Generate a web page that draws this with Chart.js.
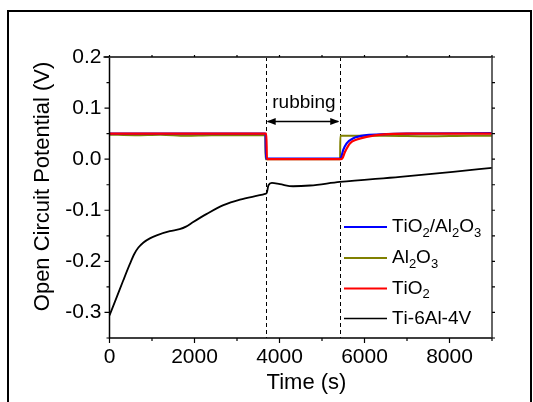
<!DOCTYPE html>
<html>
<head>
<meta charset="utf-8">
<script src="https://cdn.jsdelivr.net/npm/chart.js@4.4.1/dist/chart.umd.min.js"></script>
<style>
  html, body { margin: 0; padding: 0; background: #fff; }
  #wrap { width: 533px; height: 402px; }
</style>
</head>
<body>
<div id="wrap"><canvas id="ocp" width="533" height="402"></canvas></div>
<script>
// OCP traces, time in s, potential in V
const tiAlO = [[0, 0.050], [3670, 0.050], [3682, 0.001], [5430, 0.001], [5460, 0.006], [5500, 0.018],
  [5580, 0.031], [5740, 0.041], [6050, 0.047], [6500, 0.049], [7000, 0.050], [9000, 0.051]];
const al2o3 = [[0, 0.048], [600, 0.047], [1200, 0.048], [1800, 0.046], [2400, 0.047], [3000, 0.047],
  [3665, 0.047], [3672, 0.000], [5425, 0.000], [5432, 0.046], [6500, 0.046], [7500, 0.045],
  [8500, 0.046], [9000, 0.046]];
const tio2 = [[0, 0.050], [3690, 0.050], [3705, 0.000], [5440, 0.000], [5480, 0.002], [5540, 0.014],
  [5660, 0.031], [5820, 0.0386], [6050, 0.0437], [6450, 0.0484], [7000, 0.050], [9000, 0.050]];
const ti64 = [[0, -0.306], [170, -0.270], [325, -0.237], [480, -0.205], [580, -0.186], [680, -0.173],
  [800, -0.163], [950, -0.155], [1110, -0.149], [1420, -0.141], [1650, -0.137], [1800, -0.132],
  [1950, -0.124], [2290, -0.107], [2680, -0.090], [3070, -0.079], [3660, -0.068], [3700, -0.066],
  [3740, -0.051], [3820, -0.0465], [4010, -0.049], [4320, -0.053], [4720, -0.0515], [5420, -0.0445],
  [6840, -0.0346], [8080, -0.0248], [9000, -0.017]];

const seriesNames = ['TiO_2/Al_2O_3', 'Al_2O_3', 'TiO_2', 'Ti-6Al-4V'];
const seriesColors = ['#0000ff', '#808000', '#ff0000', '#000000'];
const rubStart = 3675;
const rubEnd = 5430;
const xTicks = [0, 2000, 4000, 6000, 8000];
const yTicks = [-0.3, -0.2, -0.1, 0.0, 0.1, 0.2];

const FONT = '"Liberation Sans", Arial, sans-serif';
const toXY = arr => arr.map(([x, y]) => ({ x, y }));

// draws a label where "_d" means subscript digit d
const drawRich = (ctx, text, x, y, size) => {
  let cx = x;
  for (let i = 0; i < text.length; i++) {
    let ch = text[i], sub = false;
    if (ch === '_') { ch = text[++i]; sub = true; }
    ctx.font = `${sub ? Math.round(size * 0.68) : size}px ${FONT}`;
    ctx.fillText(ch, cx, sub ? y + 6 : y);
    cx += ctx.measureText(ch).width;
  }
};

const decor = {
  id: 'decor',
  beforeDraw(chart) {
    const ctx = chart.ctx;
    ctx.save();
    ctx.fillStyle = '#fff';
    ctx.fillRect(0, 0, chart.width, chart.height);
    ctx.restore();
  },
  beforeDatasetsDraw(chart) {
    const { ctx, chartArea: a, scales: { x } } = chart;
    ctx.save();
    ctx.strokeStyle = '#000';
    ctx.lineWidth = 1;
    ctx.setLineDash([4, 3]);
    [rubStart, rubEnd].forEach(t => {
      const px = Math.round(x.getPixelForValue(t)) + 0.5;
      ctx.beginPath();
      ctx.moveTo(px, a.top);
      ctx.lineTo(px, a.bottom);
      ctx.stroke();
    });
    ctx.restore();
  },
  afterDraw(chart) {
    const { ctx, chartArea: a, scales: { x, y } } = chart;
    ctx.save();

    // plot box
    ctx.strokeStyle = '#000';
    ctx.lineWidth = 1.5;
    ctx.beginPath();
    ctx.moveTo(a.left, a.top); ctx.lineTo(a.left, a.bottom); ctx.lineTo(a.right, a.bottom);
    ctx.stroke();
    ctx.strokeStyle = '#333';
    ctx.beginPath();
    ctx.moveTo(a.right, a.bottom); ctx.lineTo(a.right, a.top);
    ctx.stroke();
    ctx.strokeStyle = '#444';
    ctx.lineWidth = 2.2;
    ctx.beginPath();
    ctx.moveTo(a.left - 6, a.top); ctx.lineTo(a.right, a.top);
    ctx.stroke();

    // tick marks, major and minor, pointing out
    ctx.lineWidth = 1.2;
    ctx.strokeStyle = '#000';
    for (let t = 0; t <= 9000; t += 1000) {
      const px = x.getPixelForValue(t);
      const len = t % 2000 === 0 ? 5 : 3;
      ctx.beginPath();
      ctx.moveTo(px, a.bottom); ctx.lineTo(px, a.bottom + len);
      ctx.moveTo(px, a.top); ctx.lineTo(px, a.top - 2);
      ctx.stroke();
    }
    for (let k = -7; k <= 4; k++) {
      const py = y.getPixelForValue(k * 0.05);
      const len = k % 2 === 0 ? 5 : 3;
      ctx.beginPath();
      ctx.moveTo(a.left, py); ctx.lineTo(a.left - len, py);
      ctx.moveTo(a.right, py); ctx.lineTo(a.right + 3, py);
      ctx.stroke();
    }

    // rubbing interval
    const x0 = x.getPixelForValue(rubStart), x1 = x.getPixelForValue(rubEnd);
    const ay = 121.5;
    ctx.lineWidth = 1.5;
    ctx.fillStyle = '#000';
    ctx.beginPath();
    ctx.moveTo(x0 + 2, ay); ctx.lineTo(x1 - 2, ay);
    ctx.stroke();
    [[x0 + 1, 1], [x1 - 1, -1]].forEach(([px, d]) => {
      ctx.beginPath();
      ctx.moveTo(px, ay);
      ctx.lineTo(px + d * 9, ay - 3.5);
      ctx.lineTo(px + d * 9, ay + 3.5);
      ctx.closePath();
      ctx.fill();
    });
    ctx.font = `19px ${FONT}`;
    ctx.textAlign = 'center';
    ctx.textBaseline = 'alphabetic';
    ctx.fillText('rubbing', (x0 + x1) / 2 + 1, 108);

    // legend
    const rows = [227, 258, 288.5, 318.5];
    ctx.textAlign = 'left';
    ctx.textBaseline = 'middle';
    seriesNames.forEach((name, i) => {
      ctx.strokeStyle = seriesColors[i];
      ctx.lineWidth = i === 3 ? 1.5 : 2;
      ctx.beginPath();
      ctx.moveTo(344, rows[i]); ctx.lineTo(387, rows[i]);
      ctx.stroke();
      ctx.fillStyle = '#000';
      drawRich(ctx, name, 392, rows[i], 19);
    });

    // axis titles
    ctx.fillStyle = '#000';
    ctx.font = `22px ${FONT}`;
    ctx.textAlign = 'center';
    ctx.textBaseline = 'middle';
    ctx.fillText('Time (s)', 306.5, 383);
    ctx.translate(42.5, 186.5);
    ctx.rotate(-Math.PI / 2);
    ctx.fillText('Open Circuit Potential (V)', 0, 0);
    ctx.setTransform(1, 0, 0, 1, 0, 0);

    // outer frame
    ctx.strokeStyle = '#000';
    ctx.lineWidth = 2;
    ctx.beginPath();
    ctx.moveTo(8, 402); ctx.lineTo(8, 11); ctx.lineTo(531, 11); ctx.lineTo(531, 402);
    ctx.stroke();
    ctx.restore();
  }
};

const line = (data, i, width, order) => ({
  label: seriesNames[i],
  data: toXY(data),
  borderColor: seriesColors[i],
  borderWidth: width,
  pointRadius: 0,
  fill: false,
  cubicInterpolationMode: 'monotone',
  order
});

new Chart(document.getElementById('ocp'), {
  type: 'line',
  data: {
    datasets: [
      line(tio2, 2, 2.2, 0),
      line(tiAlO, 0, 2.2, 1),
      line(al2o3, 1, 2, 2),
      line(ti64, 3, 1.8, 3)
    ]
  },
  options: {
    responsive: false,
    animation: false,
    devicePixelRatio: 1,
    layout: { padding: { top: 57, right: 41, bottom: 0, left: 0 } },
    plugins: { legend: { display: false }, tooltip: { enabled: false } },
    scales: {
      x: {
        type: 'linear',
        min: 0,
        max: 9000,
        grid: { display: false, drawTicks: false },
        border: { display: false },
        afterFit: s => { s.height = 64; },
        afterBuildTicks: s => { s.ticks = xTicks.map(value => ({ value })); },
        ticks: {
          padding: 7,
          maxRotation: 0,
          autoSkip: false,
          color: '#000',
          font: { family: FONT, size: 21 },
          callback: v => String(v)
        }
      },
      y: {
        type: 'linear',
        min: -0.35,
        max: 0.2,
        grid: { display: false, drawTicks: false },
        border: { display: false },
        afterFit: s => { s.width = 109.5; },
        afterBuildTicks: s => { s.ticks = yTicks.map(value => ({ value })); },
        ticks: {
          padding: 8,
          autoSkip: false,
          color: '#000',
          font: { family: FONT, size: 21 },
          callback: v => v.toFixed(1)
        }
      }
    }
  },
  plugins: [decor]
});
</script>
</body>
</html>
